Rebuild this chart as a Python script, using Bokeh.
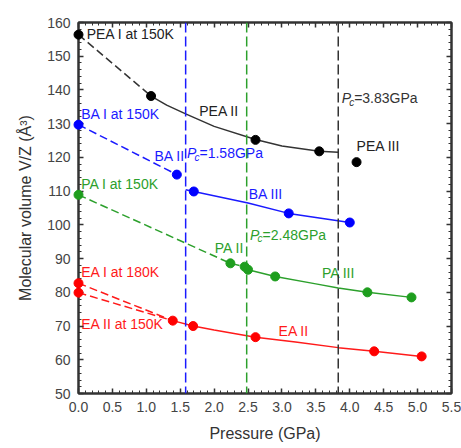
from bokeh.plotting import figure
from bokeh.models import (Range1d, LinearAxis, SingleIntervalTicker, Span, ColumnDataSource,
                          NumeralTickFormatter, CustomJSTickFormatter)
from bokeh.core.properties import value
from bokeh.embed import file_html
from bokeh.resources import INLINE

FONT = "Liberation Sans"

# ---- data ----
# PEA (black)
pea_x = [0.0, 1.07, 2.61, 3.55]
pea_y = [156.4, 138.2, 125.2, 121.8]
pea3_x = [4.10]
pea3_y = [118.6]
pea_dash_x = [0.0, 1.07]
pea_dash_y = [156.4, 138.2]
pea_fit_x = [1.07, 1.3, 1.58, 2.0, 2.61, 3.0, 3.55, 3.83]
pea_fit_y = [138.2, 135.5, 132.9, 129.2, 125.3, 123.4, 121.8, 121.5]

# BA (blue)
ba_x = [0.0, 1.45, 1.70, 3.10, 4.00]
ba_y = [129.7, 114.9, 109.9, 103.4, 100.7]
ba_dash_x = [0.0, 1.45]
ba_dash_y = [129.7, 114.9]
ba_fit_x = [1.58, 1.70, 2.5, 3.10, 3.5, 4.00]
ba_fit_y = [110.4, 109.9, 106.5, 103.4, 102.2, 100.7]

# PA (green)
pa_x = [0.0, 2.24, 2.45, 2.50, 2.90, 4.26, 4.91]
pa_y = [108.9, 88.6, 87.6, 86.7, 84.7, 80.0, 78.5]
pa_dash_x = [0.0, 2.24, 2.45]
pa_dash_y = [108.9, 88.6, 87.6]
pa_fit_x = [2.48, 2.50, 2.90, 3.5, 3.83, 4.26, 4.91]
pa_fit_y = [87.0, 86.7, 84.7, 82.5, 81.3, 80.0, 78.5]

# EA (red)
ea_x = [0.0, 0.0, 1.39, 1.69, 2.61, 4.36, 5.06]
ea_y = [82.7, 79.9, 71.6, 70.0, 66.7, 62.5, 61.0]
ea_dash1_x = [0.0, 1.39]
ea_dash1_y = [82.7, 71.6]
ea_dash2_x = [0.0, 1.39]
ea_dash2_y = [79.9, 71.6]
ea_fit_x = [1.39, 1.69, 2.0, 2.61, 3.2, 3.83, 4.36, 5.06]
ea_fit_y = [71.6, 70.0, 68.8, 66.7, 65.3, 63.6, 62.5, 61.0]

# critical pressures
pc_values = [1.58, 2.48, 3.83]
pc_texts = ["=1.58GPa", "=2.48GPa", "=3.83GPa"]
pc_label_x = [1.60, 2.53, 3.88]
pc_label_y = [121.2, 97.0, 137.5]

# labels
lab_text = ["PEA I at 150K", "PEA II", "PEA III",
            "BA I at 150K", "BA II", "BA III",
            "PA I at 150K", "PA II", "PA III",
            "EA I at 180K", "EA II at 150K", "EA II"]
lab_x = [0.12, 1.78, 4.10, 0.04, 1.12, 2.51, 0.04, 2.01, 3.59, 0.04, 0.04, 2.95]
lab_y = [156.6, 133.7, 123.3, 132.9, 120.3, 109.2, 112.1, 93.2, 85.7, 86.0, 70.5, 68.5]

BLACK = "#222222"
BLUE = "#1a1aff"
GREEN = "#2ca02c"
RED = "#ff1a1a"
lab_color = [BLACK, BLACK, BLACK, BLUE, BLUE, BLUE, GREEN, GREEN, GREEN, RED, RED, RED]
pc_colors = [BLUE, GREEN, "#333333"]

p = figure(width=461, height=448, output_backend="svg", toolbar_location=None,
           x_range=Range1d(0, 5.5), y_range=Range1d(50, 160),
           min_border_left=78, min_border_right=10, min_border_top=22, min_border_bottom=55)
p.grid.visible = False
p.outline_line_color = "#333333"
p.outline_line_width = 2
p.background_fill_color = "white"
p.border_fill_color = "white"

xt = SingleIntervalTicker(interval=0.5, num_minor_ticks=5)
yt = SingleIntervalTicker(interval=10, num_minor_ticks=5)
p.xaxis.ticker = xt
p.yaxis.ticker = yt
p.xaxis.formatter = NumeralTickFormatter(format="0.0")
p.xaxis.axis_label = "Pressure (GPa)"
p.yaxis.axis_label = "Molecular volume V/Z (Å³)"

for ax in [p.xaxis[0], p.yaxis[0]]:
    ax.axis_line_width = 2
    ax.axis_line_color = "#333333"
    ax.major_tick_in = 5
    ax.major_tick_out = 0
    ax.minor_tick_in = 3
    ax.minor_tick_out = 0
    ax.major_tick_line_width = 1.5
    ax.major_tick_line_color = "#333333"
    ax.minor_tick_line_color = "#333333"
    ax.major_label_text_font = FONT
    ax.major_label_text_font_size = "14px"
    ax.major_label_text_color = "#444444"
    ax.axis_label_text_font = FONT
    ax.axis_label_text_font_size = "16px"
    ax.axis_label_text_font_style = "normal"
    ax.axis_label_text_color = "#333333"
    ax.major_label_standoff = 8
    ax.axis_label_standoff = 10

for loc, tk in [("above", xt), ("right", yt)]:
    ax = LinearAxis(ticker=tk, formatter=CustomJSTickFormatter(code="return ''"),
                    major_tick_in=5, major_tick_out=0, minor_tick_in=3, minor_tick_out=0,
                    axis_line_width=2, axis_line_color="#333333",
                    major_tick_line_width=1.5,
                    major_tick_line_color="#333333", minor_tick_line_color="#333333",
                    major_label_standoff=0)
    p.add_layout(ax, loc)

# vertical dashed lines
for v, c in zip(pc_values, pc_colors):
    p.add_layout(Span(location=v, dimension="height", line_color=c,
                      line_dash="10 4", line_width=1.5))

DASH = "8 4"
# PEA
p.line(pea_dash_x, pea_dash_y, color="#333333", line_width=1.5, line_dash=DASH)
p.line(pea_fit_x, pea_fit_y, color="#333333", line_width=1.5)
# BA
p.line(ba_dash_x, ba_dash_y, color=BLUE, line_width=1.5, line_dash=DASH)
p.line(ba_fit_x, ba_fit_y, color=BLUE, line_width=1.5)
# PA
p.line(pa_dash_x, pa_dash_y, color=GREEN, line_width=1.5, line_dash=DASH)
p.line(pa_fit_x, pa_fit_y, color=GREEN, line_width=1.5)
# EA
p.line(ea_dash1_x, ea_dash1_y, color=RED, line_width=1.5, line_dash=DASH)
p.line(ea_dash2_x, ea_dash2_y, color=RED, line_width=1.5, line_dash=DASH)
p.line(ea_fit_x, ea_fit_y, color=RED, line_width=1.5)

# markers (overlay level so points on the axis are not clipped)
p.scatter(pea_x, pea_y, size=9, color="black", level="overlay")
p.scatter(pea3_x, pea3_y, size=9, color="black", level="overlay")
p.scatter(ba_x, ba_y, size=9, color="#0000ff", level="overlay")
p.scatter(pa_x, pa_y, size=9, color="#1e9e1e", level="overlay")
p.scatter(ea_x, ea_y, size=9, color="#ff0000", level="overlay")

# labels
src = ColumnDataSource(dict(x=lab_x, y=lab_y, t=lab_text, c=lab_color))
p.text(x="x", y="y", text="t", text_color="c", source=src,
       text_font=value(FONT), text_font_size="14px", text_baseline="middle", text_align="left")

# P_c labels
pc_src = ColumnDataSource(dict(x=pc_label_x, y=pc_label_y, t=pc_texts, c=pc_colors))
p.text(x="x", y="y", text=value("P"), text_color="c", source=pc_src,
       text_font=value(FONT), text_font_size="14px", text_font_style="italic",
       text_baseline="middle", text_align="left")
p.text(x="x", y="y", text=value("c"), text_color="c", source=pc_src,
       text_font=value(FONT), text_font_size="10px", text_font_style="italic",
       text_baseline="middle", text_align="left", x_offset=7.5, y_offset=4)
p.text(x="x", y="y", text="t", text_color="c", source=pc_src,
       text_font=value(FONT), text_font_size="14px",
       text_baseline="middle", text_align="left", x_offset=12.5)

open("out.html", "w").write(file_html(p, INLINE))
